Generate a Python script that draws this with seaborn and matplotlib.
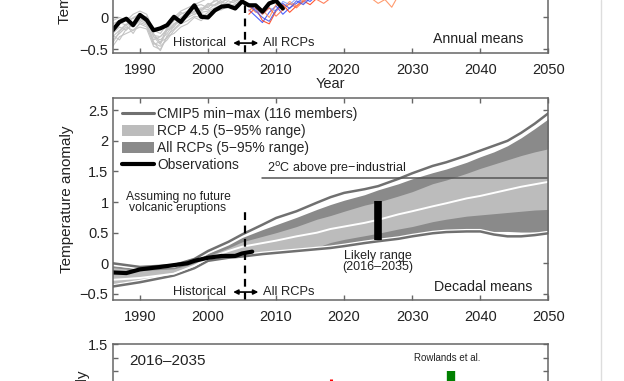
"""
Near-term warming projections: annual and decadal means (recreated panel crop).
"""

import numpy as np
import matplotlib.pyplot as plt
import seaborn as sns
from matplotlib.lines import Line2D
from matplotlib.patches import Patch
from matplotlib.ticker import FuncFormatter, MultipleLocator
import matplotlib.patheffects as pe

sns.set_theme(style="ticks")
plt.rcParams["font.family"] = ["Liberation Sans", "DejaVu Sans"]

# ── Data: top panel (annual means) ────────────────────────────────────────────
hist_years = np.arange(1986, 2006)
gray_members = [
    [-0.30, -0.20, -0.10, -0.15, -0.05, -0.10, -0.35, -0.30, -0.20, -0.10, -0.05, 0.00, 0.05, 0.08, 0.10, 0.15, 0.20, 0.22, 0.25, 0.30],
    [-0.10, -0.05, 0.00, -0.02, 0.05, 0.00, -0.25, -0.40, -0.15, -0.05, 0.05, 0.10, 0.15, 0.12, 0.20, 0.25, 0.30, 0.35, 0.30, 0.40],
    [-0.45, -0.30, -0.25, -0.20, -0.15, -0.18, -0.45, -0.50, -0.30, -0.25, -0.15, -0.10, 0.00, -0.05, 0.05, 0.10, 0.12, 0.18, 0.20, 0.22],
    [-0.20, -0.10, -0.05, -0.10, 0.00, -0.05, -0.30, -0.35, -0.25, -0.10, -0.02, 0.05, 0.10, 0.15, 0.12, 0.20, 0.25, 0.28, 0.32, 0.35],
    [-0.05, 0.00, -0.05, 0.05, 0.10, 0.05, -0.20, -0.25, -0.10, 0.00, 0.10, 0.15, 0.20, 0.25, 0.30, 0.35, 0.40, 0.35, 0.40, 0.45],
    [-0.35, -0.25, -0.15, -0.20, -0.10, -0.15, -0.40, -0.45, -0.35, -0.20, -0.10, -0.05, 0.02, 0.00, 0.08, 0.12, 0.15, 0.20, 0.18, 0.25],
    [-0.25, -0.15, -0.20, -0.08, -0.05, 0.02, -0.30, -0.42, -0.20, -0.15, 0.00, 0.08, 0.05, 0.10, 0.18, 0.20, 0.28, 0.30, 0.26, 0.30],
    [-0.40, -0.22, -0.12, -0.25, -0.08, -0.12, -0.38, -0.52, -0.28, -0.18, -0.08, 0.02, 0.10, 0.06, 0.02, 0.14, 0.18, 0.26, 0.22, 0.28],
    [-0.15, -0.08, -0.12, 0.00, 0.05, -0.02, -0.28, -0.30, -0.18, -0.05, 0.08, 0.02, 0.18, 0.20, 0.15, 0.28, 0.22, 0.32, 0.35, 0.38],
    [-0.28, -0.35, -0.18, -0.12, -0.02, -0.08, -0.42, -0.38, -0.32, -0.12, -0.06, 0.04, 0.08, 0.12, 0.22, 0.18, 0.24, 0.20, 0.30, 0.33],
]

rcp_years = np.arange(2006, 2031)
rcp_members = {
    "#2f45ff": [0.12, 0.02, -0.08, 0.08, 0.18, 0.05, 0.15, 0.22, 0.30, 0.25, 0.35, 0.30, 0.40, 0.45, 0.50, 0.48, 0.55, 0.60, 0.62, 0.65, 0.70, 0.72, 0.75, 0.78, 0.80],
    "#ff3a10": [0.05, 0.15, -0.05, -0.10, 0.10, 0.20, 0.08, 0.18, 0.26, 0.20, 0.30, 0.35, 0.40, 0.50, 0.55, 0.58, 0.62, 0.65, 0.70, 0.72, 0.75, 0.80, 0.85, 0.88, 0.90],
    "#ff8a55": [0.18, 0.08, 0.12, 0.00, 0.20, 0.15, 0.25, 0.18, 0.28, 0.35, 0.30, 0.40, 0.45, 0.50, 0.55, 0.45, 0.50, 0.40, 0.30, 0.22, 0.28, 0.16, 0.35, 0.50, 0.60],
    "#7f9cff": [0.22, 0.12, 0.05, 0.15, 0.10, 0.25, 0.20, 0.30, 0.22, 0.35, 0.40, 0.38, 0.45, 0.50, 0.52, 0.55, 0.60, 0.62, 0.65, 0.66, 0.70, 0.72, 0.74, 0.76, 0.78],
    "#ff6a40": [0.10, 0.20, 0.05, 0.15, 0.02, 0.12, 0.22, 0.15, 0.25, 0.32, 0.28, 0.22, 0.30, 0.40, 0.45, 0.50, 0.52, 0.55, 0.58, 0.60, 0.62, 0.66, 0.70, 0.72, 0.75],
    "#4a50e0": [0.20, 0.10, 0.00, -0.06, 0.12, 0.22, 0.14, 0.26, 0.20, 0.30, 0.34, 0.42, 0.38, 0.46, 0.50, 0.55, 0.58, 0.62, 0.64, 0.68, 0.70, 0.72, 0.75, 0.78, 0.80],
}

obs_annual_years = np.arange(1986, 2012)
obs_annual = [-0.20, -0.07, -0.02, -0.12, 0.04, -0.04, -0.20, -0.17, -0.12, 0.01, -0.07, 0.06, 0.19,
              0.01, 0.00, 0.11, 0.17, 0.18, 0.14, 0.25, 0.19, 0.19, 0.09, 0.22, 0.26, 0.14]

# ── Data: middle panel (decadal means) ────────────────────────────────────────
dec_years = [1986, 1990, 1995, 1998, 2000, 2003, 2005, 2008, 2010, 2013, 2016, 2018,
             2020, 2023, 2025, 2028, 2030, 2033, 2035, 2038, 2040, 2042, 2044, 2046, 2048, 2050]
cmip_max = [0.00, -0.06, -0.03, 0.07, 0.20, 0.35, 0.47, 0.63, 0.74, 0.85, 0.99, 1.08,
            1.15, 1.21, 1.26, 1.38, 1.47, 1.59, 1.65, 1.76, 1.84, 1.92, 2.00, 2.13, 2.28, 2.45]
all_rcp_hi = [-0.04, -0.09, -0.06, 0.04, 0.16, 0.30, 0.42, 0.55, 0.63, 0.75, 0.88, 0.96,
              1.03, 1.12, 1.20, 1.30, 1.38, 1.48, 1.54, 1.65, 1.74, 1.82, 1.92, 2.05, 2.20, 2.36]
rcp45_hi = [-0.07, -0.12, -0.09, 0.00, 0.12, 0.25, 0.35, 0.44, 0.50, 0.60, 0.72, 0.78,
            0.85, 0.95, 1.00, 1.10, 1.17, 1.30, 1.36, 1.47, 1.55, 1.62, 1.69, 1.76, 1.82, 1.87]
rcp45_median = [-0.27, -0.24, -0.17, -0.04, 0.08, 0.20, 0.27, 0.33, 0.37, 0.44, 0.50, 0.56,
                0.60, 0.66, 0.71, 0.80, 0.85, 0.93, 0.98, 1.06, 1.10, 1.15, 1.20, 1.25, 1.29, 1.33]
rcp45_lo = [-0.33, -0.27, -0.17, -0.05, 0.06, 0.11, 0.13, 0.17, 0.19, 0.22, 0.26, 0.34,
            0.39, 0.45, 0.49, 0.56, 0.60, 0.68, 0.72, 0.77, 0.79, 0.81, 0.83, 0.85, 0.87, 0.88]
all_rcp_lo = [-0.35, -0.29, -0.19, -0.07, 0.05, 0.10, 0.12, 0.16, 0.18, 0.21, 0.25, 0.29,
              0.32, 0.37, 0.40, 0.42, 0.45, 0.49, 0.50, 0.52, 0.52, 0.52, 0.52, 0.51, 0.51, 0.51]
cmip_min = [-0.38, -0.31, -0.20, -0.08, 0.04, 0.09, 0.11, 0.15, 0.17, 0.20, 0.23, 0.25,
            0.28, 0.33, 0.36, 0.40, 0.44, 0.49, 0.51, 0.52, 0.52, 0.47, 0.44, 0.44, 0.46, 0.49]

obs_dec_years = [1986, 1988, 1990, 1993, 1995, 1997, 1998, 2000, 2002, 2004, 2005, 2006.5]
obs_decadal = [-0.15, -0.16, -0.10, -0.06, -0.03, 0.00, 0.04, 0.09, 0.12, 0.12, 0.16, 0.19]

likely_year = 2025
likely_range = [0.38, 1.01]
two_deg_level = 1.40
split_year = 2005.5

# ── Data: bottom panel (2016-2035) ────────────────────────────────────────────
c_categories = ["", "", "", "", "", "Rowlands et al.", ""]
c_colors = ["k", "k", "k", "red", "k", "green", "k"]
c_top = [np.nan, np.nan, np.nan, 1.24, np.nan, 1.30, np.nan]
c_bottom = [np.nan, np.nan, np.nan, 0.90, np.nan, 0.70, np.nan]

# ── Styling ───────────────────────────────────────────────────────────────────
W, H = 624, 381
SPINE = "#666666"
LIGHT = "#bcbcbc"
DARK = "#8a8a8a"
MINMAX = "#707070"


def minus_fmt(v, pos):
    return f"{v:g}".replace("-", "\u2212")


def style_axes(ax):
    for s in ax.spines.values():
        s.set_color(SPINE)
        s.set_linewidth(1.1)
        s.set_visible(True)
    ax.tick_params(direction="in", length=3.5, width=1, color=SPINE,
                   labelsize=10.5, labelcolor="#222222", pad=3,
                   top=True, right=True, which="both")
    ax.tick_params(axis="x", pad=7)
    ax.yaxis.set_major_formatter(FuncFormatter(minus_fmt))


def px_axes(fig, left, top, right, bottom):
    return fig.add_axes([left / W, 1 - bottom / H, (right - left) / W, (bottom - top) / H])


fig = plt.figure(figsize=(W / 100, H / 100), dpi=100)
fig.patch.set_facecolor("white")

# ── Top panel ────────────────────────────────────────────────────────────────
ax1 = px_axes(fig, 112.7, 53.3 - 2.0 * 64 - 0.06 * 64, 548.3, 53.3)
for member in gray_members:
    sns.lineplot(x=hist_years, y=member, ax=ax1, color="#c4c4c4", lw=0.8)
for col, member in rcp_members.items():
    sns.lineplot(x=rcp_years, y=member, ax=ax1, color=col, lw=0.8, alpha=0.85)
sns.lineplot(x=obs_annual_years, y=obs_annual, ax=ax1, color="black", lw=3)
ax1.axvline(split_year, color="black", lw=1.6, ls=(0, (3.5, 2.5)))
ax1.annotate("", xy=(2003.7, -0.40), xytext=(2007.4, -0.40),
             arrowprops=dict(arrowstyle="<|-|>", color="black", lw=1.2, mutation_scale=7,
                             shrinkA=0, shrinkB=0))
ax1.text(2002.7, -0.40, "Historical", ha="right", va="center", fontsize=9.3, color="#222222")
ax1.text(2008.1, -0.40, "All RCPs", ha="left", va="center", fontsize=9.3, color="#222222")
ax1.text(2046.4, -0.34, "Annual means", ha="right", va="center", fontsize=10.2, color="#222222")
ax1.set_xlim(1986, 2050)
ax1.set_ylim(-0.56, 1.5)
ax1.set_xticks(range(1990, 2051, 10))
ax1.set_yticks([-0.5, 0, 0.5, 1, 1.5])
ax1.set_ylabel("")
style_axes(ax1)
ax1.set_xlabel("Year", fontsize=10.5, labelpad=0, color="#222222")
fig.text(65 / W, 1 - 23.5 / H, "Temperature anomaly", rotation=90, ha="center", va="bottom",
         fontsize=11, color="#222222")

# ── Middle panel ─────────────────────────────────────────────────────────────
ax2 = px_axes(fig, 112.7, 98, 548.3, 300)
ax2.fill_between(dec_years, all_rcp_lo, all_rcp_hi, color=DARK, lw=0)
ax2.fill_between(dec_years, rcp45_lo, rcp45_hi, color=LIGHT, lw=0)
halo = [pe.Stroke(linewidth=3.6, foreground="white"), pe.Normal()]
for series in (cmip_max, cmip_min):
    ln = sns.lineplot(x=dec_years, y=series, ax=ax2, color=MINMAX, lw=1.8)
    ln.lines[-1].set_path_effects(halo)
sns.lineplot(x=dec_years, y=rcp45_median, ax=ax2, color="white", lw=1.4)
sns.lineplot(x=obs_dec_years, y=obs_decadal, ax=ax2, color="black", lw=3)
ax2.plot([2008.0, 2050], [two_deg_level, two_deg_level], color="#555555", lw=1.1)
ax2.text(2008.6, two_deg_level + 0.015, "2$^{\\rm o}$C above pre\u2212industrial", ha="left",
         va="bottom", fontsize=9, color="#222222")
ax2.plot([likely_year, likely_year], likely_range, color="black", lw=5.5, solid_capstyle="butt")
ax2.text(likely_year, 0.03, "Likely range\n(2016\u20132035)", ha="center", va="center",
         fontsize=9, color="#222222", linespacing=0.95)
ax2.text(1995.6, 0.99, "Assuming no future\nvolcanic eruptions", ha="center", va="center",
         fontsize=8.7, color="#222222", linespacing=0.95)
ax2.plot([split_year, split_year], [-0.6, 0.85], color="black", lw=1.6, ls=(0, (3.5, 2.5)))
ax2.annotate("", xy=(2003.7, -0.47), xytext=(2007.4, -0.47),
             arrowprops=dict(arrowstyle="<|-|>", color="black", lw=1.2, mutation_scale=7,
                             shrinkA=0, shrinkB=0))
ax2.text(2002.7, -0.47, "Historical", ha="right", va="center", fontsize=9.3, color="#222222")
ax2.text(2008.1, -0.47, "All RCPs", ha="left", va="center", fontsize=9.3, color="#222222")
ax2.text(2047.6, -0.38, "Decadal means", ha="right", va="center", fontsize=10.2, color="#222222")
ax2.set_xlim(1986, 2050)
ax2.set_ylim(-0.6, 2.7)
ax2.set_xticks(range(1990, 2051, 10))
ax2.set_yticks(np.arange(-0.5, 2.51, 0.5))
ax2.set_xlabel("")
ax2.set_ylabel("Temperature anomaly", fontsize=11, color="#222222", labelpad=4)
style_axes(ax2)

handles = [Line2D([0], [0], color=MINMAX, lw=2.2),
           Patch(facecolor=LIGHT, edgecolor="none"),
           Patch(facecolor=DARK, edgecolor="none"),
           Line2D([0], [0], color="black", lw=3)]
labels = ["CMIP5 min\u2212max (116 members)", "RCP 4.5 (5\u221295% range)",
          "All RCPs (5\u221295% range)", "Observations"]
ax2.legend(handles, labels, loc="upper left", frameon=False, fontsize=10,
           handlelength=2.3, handleheight=0.85, handletextpad=0.25,
           labelspacing=0.22, borderaxespad=0.35, borderpad=0.3)

# ── Bottom panel ─────────────────────────────────────────────────────────────
ax3 = px_axes(fig, 112.7, 344.3, 548.3, 344.3 + 1.5 * 135)
for i, (lo, hi, col) in enumerate(zip(c_bottom, c_top, c_colors)):
    if np.isnan(hi):
        continue
    lw = 6 if col == "green" else 2.2
    ax3.plot([i - (0.06 if col == "green" else 0), i - (0.06 if col == "green" else 0)], [lo, hi],
             color=col, lw=lw, solid_capstyle="butt")
for i, name in enumerate(c_categories):
    if name:
        ax3.text(i - 0.12, 1.40, name, ha="center", va="center", fontsize=7, color="#222222")
ax3.text(0.26 - 0.5, 1.38, "2016\u20132035", ha="left", va="center", fontsize=11, color="#222222")
ax3.set_xlim(-0.5, len(c_categories) - 0.5)
ax3.set_ylim(0, 1.5)
ax3.set_xticks([])
ax3.set_yticks([0, 0.5, 1, 1.5])
ax3.yaxis.set_minor_locator(MultipleLocator(0.1))
style_axes(ax3)
ax3.tick_params(which="minor", length=3.5)
fig.text(83 / W, 1 - 371 / H, "Temperature anomaly", rotation=90, ha="center", va="top",
         fontsize=11, color="#222222")

# faint page border on the right
fig.add_artist(Line2D([601 / W, 601 / W], [0, 1], color="#dddddd", lw=1))

fig.savefig("out.png", dpi=100)
